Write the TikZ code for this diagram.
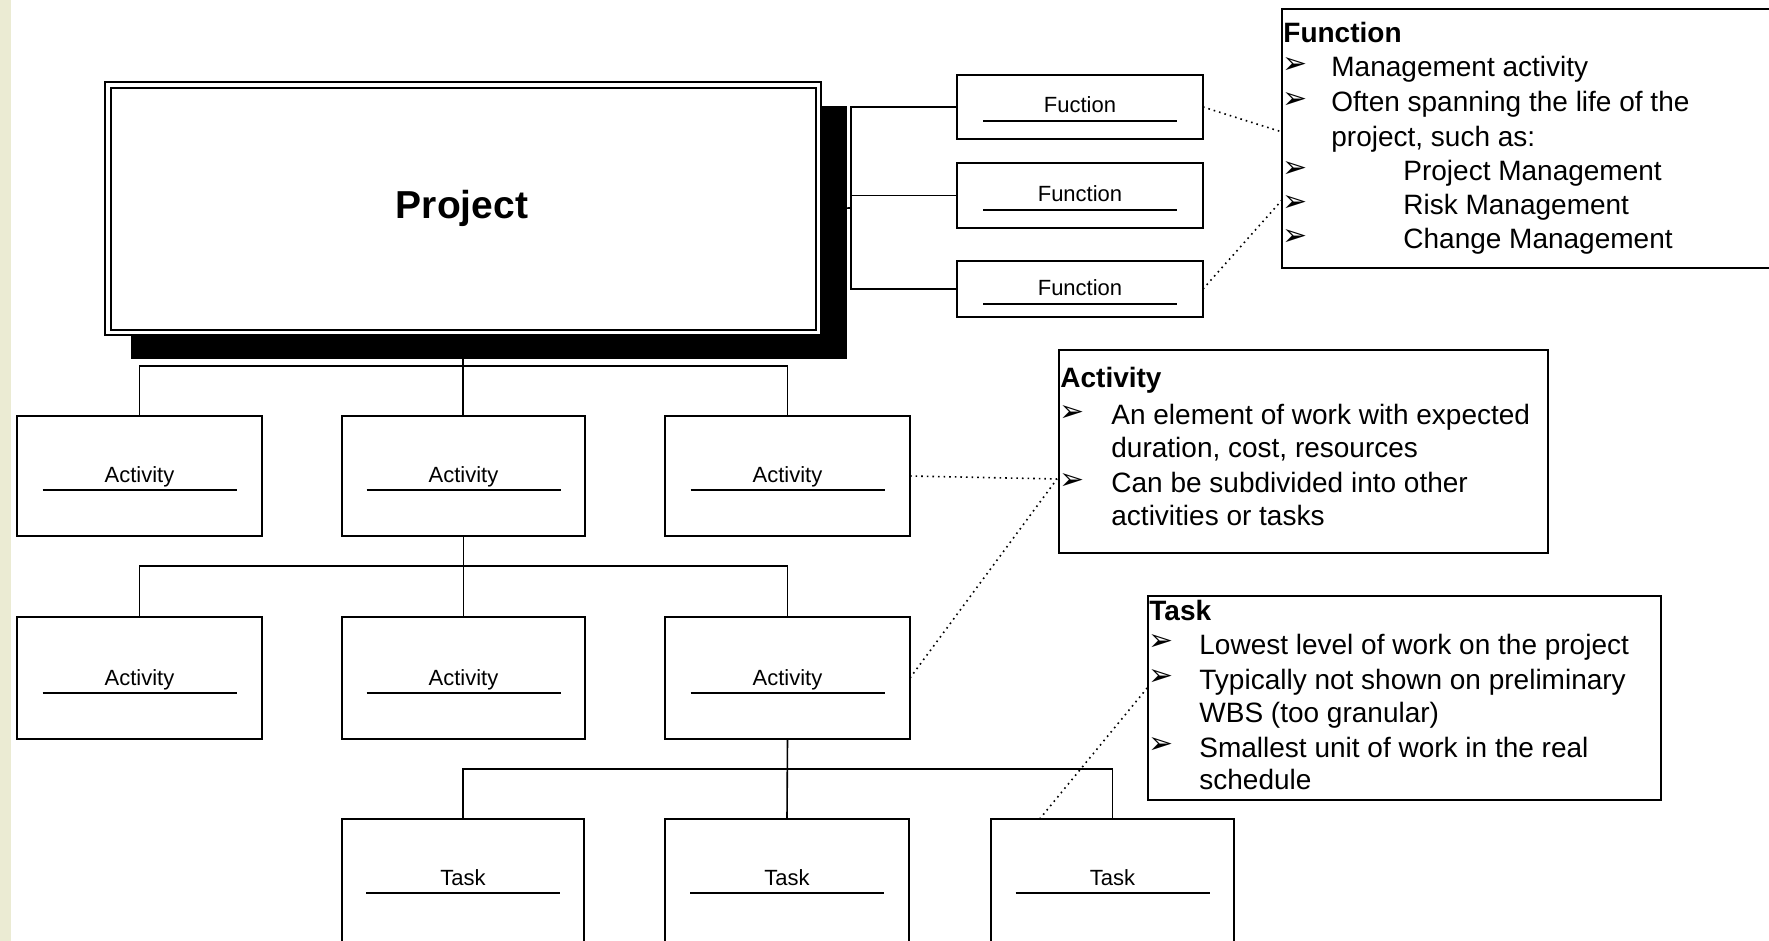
\documentclass[tikz,border=0pt]{standalone}
\usepackage{fontspec}
\setmainfont{Liberation Sans}
\newfontfamily\dingfont{DejaVu Sans}
\usetikzlibrary{fit,shadows,calc}
\definecolor{stripbg}{RGB}{235,235,211}
\tikzset{
 wbox/.style={draw, line width=1pt, fill=white, inner sep=0pt, outer sep=0pt},
 notebox/.style={draw, line width=1pt, fill=white, inner sep=0pt, outer sep=0pt},
 boxlbl/.style={font=\fontsize{11pt}{13pt}\selectfont, inner sep=0pt},
 uline/.style={line width=1.3pt},
 conn/.style={line width=0.8pt},
 dotline/.style={line width=0.8pt, dotted},
 notetxt/.style={font=\fontsize{14pt}{16pt}\selectfont, inner sep=0pt, anchor=base west},
 notehead/.style={font=\bfseries\fontsize{14pt}{16pt}\selectfont, inner sep=0pt, anchor=base west},
 bul/.style={font=\dingfont\fontsize{15pt}{15pt}\selectfont, inner sep=0pt, anchor=west},
}
% name, x1, y1, x2, y2, label, underline offset
\newcommand\wbsbox[7]{%
  \node[wbox, fit={(#2,#3) (#4,#5)}] (#1) {};
  \node[boxlbl, anchor=base] (#1-l) at ({(#2+#4)/2},{#3+#7-8}) {#6};
  \draw[uline] ({(#2+#4)/2-97},{#3+#7}) -- ({(#2+#4)/2+97},{#3+#7});
}
\begin{document}
\begin{tikzpicture}[x=0.5pt,y=-0.5pt]
\useasboundingbox (0,0) rectangle (1769,941);
\clip (0,0) rectangle (1769,941);
\fill[white] (0,0) rectangle (1769,941);
\fill[stripbg] (0,0) rectangle (11,941);

% project
\node[wbox, line width=0.8pt, fit={(105,82) (821,335)},
  drop shadow={shadow xshift=13pt, shadow yshift=-12pt, fill=black, opacity=1}] (proj) {};
\draw[line width=1pt] ([shift={(6,6)}]proj.north west) rectangle ([shift={(-5,-5)}]proj.south east);
\node[font=\bfseries\fontsize{19.5pt}{22pt}\selectfont, inner sep=0pt, anchor=base] (proj-l) at (462,219) {Project};

% function boxes
\wbsbox{f1}{957}{75}{1203}{139}{Fuction}{46}
\wbsbox{f2}{957}{163}{1203}{228}{Function}{47}
\wbsbox{f3}{957}{261}{1203}{317}{Function}{43}

% activities
\wbsbox{a1}{17}{416}{262}{536}{Activity}{74}
\wbsbox{a2}{342}{416}{585}{536}{Activity}{74}
\wbsbox{a3}{665}{416}{910}{536}{Activity}{74}
\wbsbox{a4}{17}{617}{262}{739}{Activity}{76}
\wbsbox{a5}{342}{617}{585}{739}{Activity}{76}
\wbsbox{a6}{665}{617}{910}{739}{Activity}{76}

% tasks
\wbsbox{t1}{342}{819}{584}{975}{Task}{74}
\wbsbox{t2}{665}{819}{909}{975}{Task}{74}
\wbsbox{t3}{991}{819}{1234}{975}{Task}{74}

% tree connectors
\coordinate (bus1) at (463,366);
\coordinate (bus2) at (463,566);
\coordinate (bus3) at (787,769);
\coordinate (fbus) at (851,208);
\draw[conn] (proj.south) -- (proj.south |- a2.north);
\draw[conn] (a1.north) -- (a1.north |- bus1) -- (a3.north |- bus1) -- (a3.north);
\draw[conn] (a2.south) -- (a5.north);
\draw[conn] (a4.north) -- (a4.north |- bus2) -- (a6.north |- bus2) -- (a6.north);
\draw[conn] (a6.south) -- (t2.north);
\draw[conn] (t1.north) -- (t1.north |- bus3) -- (t3.north |- bus3) -- (t3.north);
\draw[conn] (proj.east) -- (fbus);
\draw[conn] (f1.west) -- (f1.west -| fbus) -- (f3.west -| fbus) -- (f3.west);
\draw[conn] (f2.west) -- (f2.west -| fbus);

% note boxes
\node[notebox, fit={(1282,9) (1800,268)}] (fnote) {};
\node[notebox, fit={(1059,350) (1548,553)}] (anote) {};
\node[notebox, fit={(1148,596) (1661,800)}] (tnote) {};

% function note text
\node[notehead] (fh) at (1283,43) {Function};
\node[bul] (fb1) at (1282,66) {➢};
\node[notetxt] (fl1) at (1331,77) {Management activity};
\node[bul] (fb2) at (1282,101) {➢};
\node[notetxt] (fl2) at (1331,112) {Often spanning the life of the};
\node[notetxt] (fl3) at (1331,147) {project, such as:};
\node[bul] (fb4) at (1282,170) {➢};
\node[notetxt] (fl4) at (1403,181) {Project Management};
\node[bul] (fb5) at (1282,204) {➢};
\node[notetxt] (fl5) at (1403,215) {Risk Management};
\node[bul] (fb6) at (1282,238) {➢};
\node[notetxt] (fl6) at (1403,249) {Change Management};

% activity note text
\node[notehead] (ah) at (1060,388) {Activity};
\node[bul] (ab1) at (1059,414) {➢};
\node[notetxt] (al1) at (1111,425) {An element of work with expected};
\node[notetxt] (al2) at (1111,458) {duration, cost, resources};
\node[bul] (ab3) at (1059,482) {➢};
\node[notetxt] (al3) at (1111,493) {Can be subdivided into other};
\node[notetxt] (al4) at (1111,525) {activities or tasks};

% task note text
\node[notehead] (th) at (1149,620) {Task};
\node[bul] (tb1) at (1148,643) {➢};
\node[notetxt] (tl1) at (1199,654) {Lowest level of work on the project};
\node[bul] (tb2) at (1148,678) {➢};
\node[notetxt] (tl2) at (1199,689) {Typically not shown on preliminary};
\node[notetxt] (tl3) at (1199,722) {WBS (too granular)};
\node[bul] (tb4) at (1148,746) {➢};
\node[notetxt] (tl4) at (1199,757) {Smallest unit of work in the real};
\node[notetxt] (tl5) at (1199,789) {schedule};

% dotted callouts
\coordinate (fn1) at (1282,132);
\coordinate (fn2) at (1282,200);
\coordinate (an1) at (1057,479);
\coordinate (tn1) at (1148,687);
\draw[dotline] (f1.east) -- (fn1);
\draw[dotline] (f3.east) -- (fn2);
\draw[dotline] (a3.east) -- (an1);
\draw[dotline] (a6.east) -- (an1);
\draw[dotline] ($(t3.north west)!0.2!(t3.north east)$) -- (tn1);
\end{tikzpicture}
\end{document}
